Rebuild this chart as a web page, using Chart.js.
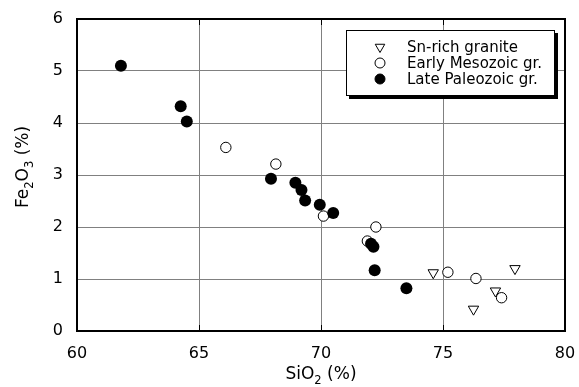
<!DOCTYPE html>
<html lang="en">
<head>
  <meta charset="UTF-8" />
  <script src="https://cdn.jsdelivr.net/npm/chart.js@4/dist/chart.umd.min.js"></script>
  <title>SiO2 vs Fe2O3</title>
  <style>
    html, body { margin: 0; padding: 0; background: #fff; }
    #wrap { width: 579px; height: 387px; }
  </style>
</head>
<body>
<div id="wrap"><canvas id="chart" width="579" height="387"></canvas></div>
<script>
  // values
  const snRichSiO2 = [74.6, 77.95, 77.15, 76.25];
  const snRichFe2O3 = [1.12, 1.2, 0.77, 0.42];

  const earlyMesoSiO2 = [66.1, 68.15, 70.1, 72.25, 71.9, 75.2, 76.35, 77.4];
  const earlyMesoFe2O3 = [3.53, 3.21, 2.21, 2.0, 1.73, 1.13, 1.01, 0.64];

  const lateSiO2 = [61.8, 64.25, 64.5, 67.95, 68.95, 69.2, 69.35, 69.95, 70.5, 72.05, 72.15, 72.2, 73.5];
  const lateFe2O3 = [5.1, 4.32, 4.03, 2.93, 2.85, 2.71, 2.51, 2.43, 2.27, 1.68, 1.62, 1.17, 0.82];

  const xTicks = [60, 65, 70, 75, 80];
  const yTicks = [0, 1, 2, 3, 4, 5, 6];

  const legendItems = [
    { label: "Sn-rich granite", style: "triangle", rotation: 180, fill: "#fff" },
    { label: "Early Mesozoic gr.", style: "circle", rotation: 0, fill: "#fff" },
    { label: "Late Paleozoic gr.", style: "circle", rotation: 0, fill: "#000" }
  ];

  const FONT = "'DejaVu Sans', sans-serif";
  const toPoints = (xs, ys) => xs.map((x, i) => ({ x: x, y: ys[i] }));

  // draws text with subscript pieces, starting at x
  function drawParts(ctx, parts, x, y, size) {
    let cx = x;
    parts.forEach(([txt, sub]) => {
      ctx.font = (sub ? size * 0.68 : size) + "px " + FONT;
      ctx.fillText(txt, cx, y + (sub ? size * 0.32 : 0));
      cx += ctx.measureText(txt).width;
    });
  }
  function partsWidth(ctx, parts, size) {
    let w = 0;
    parts.forEach(([txt, sub]) => {
      ctx.font = (sub ? size * 0.68 : size) + "px " + FONT;
      w += ctx.measureText(txt).width;
    });
    return w;
  }

  const decor = {
    id: "decor",
    afterDraw(chart) {
      const { ctx, chartArea: a, scales } = chart;
      ctx.save();
      // inner tick marks on top and bottom
      ctx.strokeStyle = "#000";
      ctx.lineWidth = 1;
      xTicks.forEach(v => {
        const px = Math.round(scales.x.getPixelForValue(v)) + 0.5;
        ctx.beginPath();
        ctx.moveTo(px, a.bottom); ctx.lineTo(px, a.bottom - 6);
        ctx.moveTo(px, a.top); ctx.lineTo(px, a.top + 6);
        ctx.stroke();
      });
      // frame
      ctx.lineWidth = 2;
      ctx.strokeRect(a.left, a.top, a.right - a.left, a.bottom - a.top);

      // axis titles with subscripts
      ctx.fillStyle = "#000";
      ctx.textBaseline = "alphabetic";
      ctx.textAlign = "left";
      const xParts = [["SiO", false], ["2", true], [" (%)", false]];
      const xw = partsWidth(ctx, xParts, 17);
      drawParts(ctx, xParts, (a.left + a.right) / 2 - xw / 2, 379, 17);

      const yParts = [["Fe", false], ["2", true], ["O", false], ["3", true], [" (%)", false]];
      const yw = partsWidth(ctx, yParts, 17);
      ctx.save();
      ctx.translate(28, 167);
      ctx.rotate(-Math.PI / 2);
      drawParts(ctx, yParts, -yw / 2, 0, 17);
      ctx.restore();

      // legend box with drop shadow
      const bx = 346, by = 30, bw = 209, bh = 66;
      ctx.fillStyle = "#000";
      ctx.fillRect(bx + 3, by + 3, bw, bh);
      ctx.fillStyle = "#fff";
      ctx.fillRect(bx, by, bw, bh);
      ctx.lineWidth = 1;
      ctx.strokeStyle = "#000";
      ctx.strokeRect(bx + 0.5, by + 0.5, bw - 1, bh - 1);
      ctx.font = "15px " + FONT;
      ctx.textBaseline = "middle";
      legendItems.forEach((it, i) => {
        const ly = 47 + i * 16;
        ctx.fillStyle = it.fill;
        ctx.strokeStyle = "#000";
        ctx.lineWidth = 1;
        Chart.helpers.drawPoint(ctx, { pointStyle: it.style, rotation: it.rotation, radius: it.style === "triangle" ? 5.5 : 5, borderWidth: 1 }, 380, ly);
        ctx.fillStyle = "#000";
        ctx.fillText(it.label, 407, ly + 1);
      });
      ctx.restore();
    }
  };

  new Chart(document.getElementById("chart"), {
    type: "scatter",
    data: {
      datasets: [
        {
          label: "Late Paleozoic gr.",
          data: toPoints(lateSiO2, lateFe2O3),
          pointStyle: "circle",
          pointRadius: 6,
          backgroundColor: "#000",
          borderColor: "#000",
          borderWidth: 0
        },
        {
          label: "Early Mesozoic gr.",
          data: toPoints(earlyMesoSiO2, earlyMesoFe2O3),
          pointStyle: "circle",
          pointRadius: 5.2,
          backgroundColor: "#fff",
          borderColor: "#000",
          borderWidth: 1
        },
        {
          label: "Sn-rich granite",
          data: toPoints(snRichSiO2, snRichFe2O3),
          pointStyle: "triangle",
          rotation: 180,
          pointRadius: 6,
          backgroundColor: "#fff",
          borderColor: "#000",
          borderWidth: 1
        }
      ]
    },
    options: {
      responsive: false,
      animation: false,
      layout: { padding: { top: 19, right: 14, left: 0, bottom: 0 } },
      plugins: {
        legend: { display: false },
        tooltip: { enabled: false }
      },
      scales: {
        x: {
          type: "linear",
          min: 60,
          max: 80,
          afterBuildTicks: (s) => { s.ticks = xTicks.map(v => ({ value: v })); },
          afterFit: (s) => { s.height = 56; s.paddingLeft = 0; s.paddingRight = 0; },
          grid: { color: "#808080", lineWidth: 1, drawTicks: false },
          border: { display: false },
          ticks: { color: "#000", padding: 13, maxRotation: 0, font: { family: FONT, size: 16 } }
        },
        y: {
          type: "linear",
          min: 0,
          max: 6,
          afterBuildTicks: (s) => { s.ticks = yTicks.map(v => ({ value: v })); },
          afterFit: (s) => { s.width = 77; s.paddingTop = 0; s.paddingBottom = 0; },
          grid: { color: "#808080", lineWidth: 1, drawTicks: false },
          border: { display: false },
          ticks: { color: "#000", padding: 14, font: { family: FONT, size: 16 } }
        }
      }
    },
    plugins: [decor]
  });
</script>
</body>
</html>
